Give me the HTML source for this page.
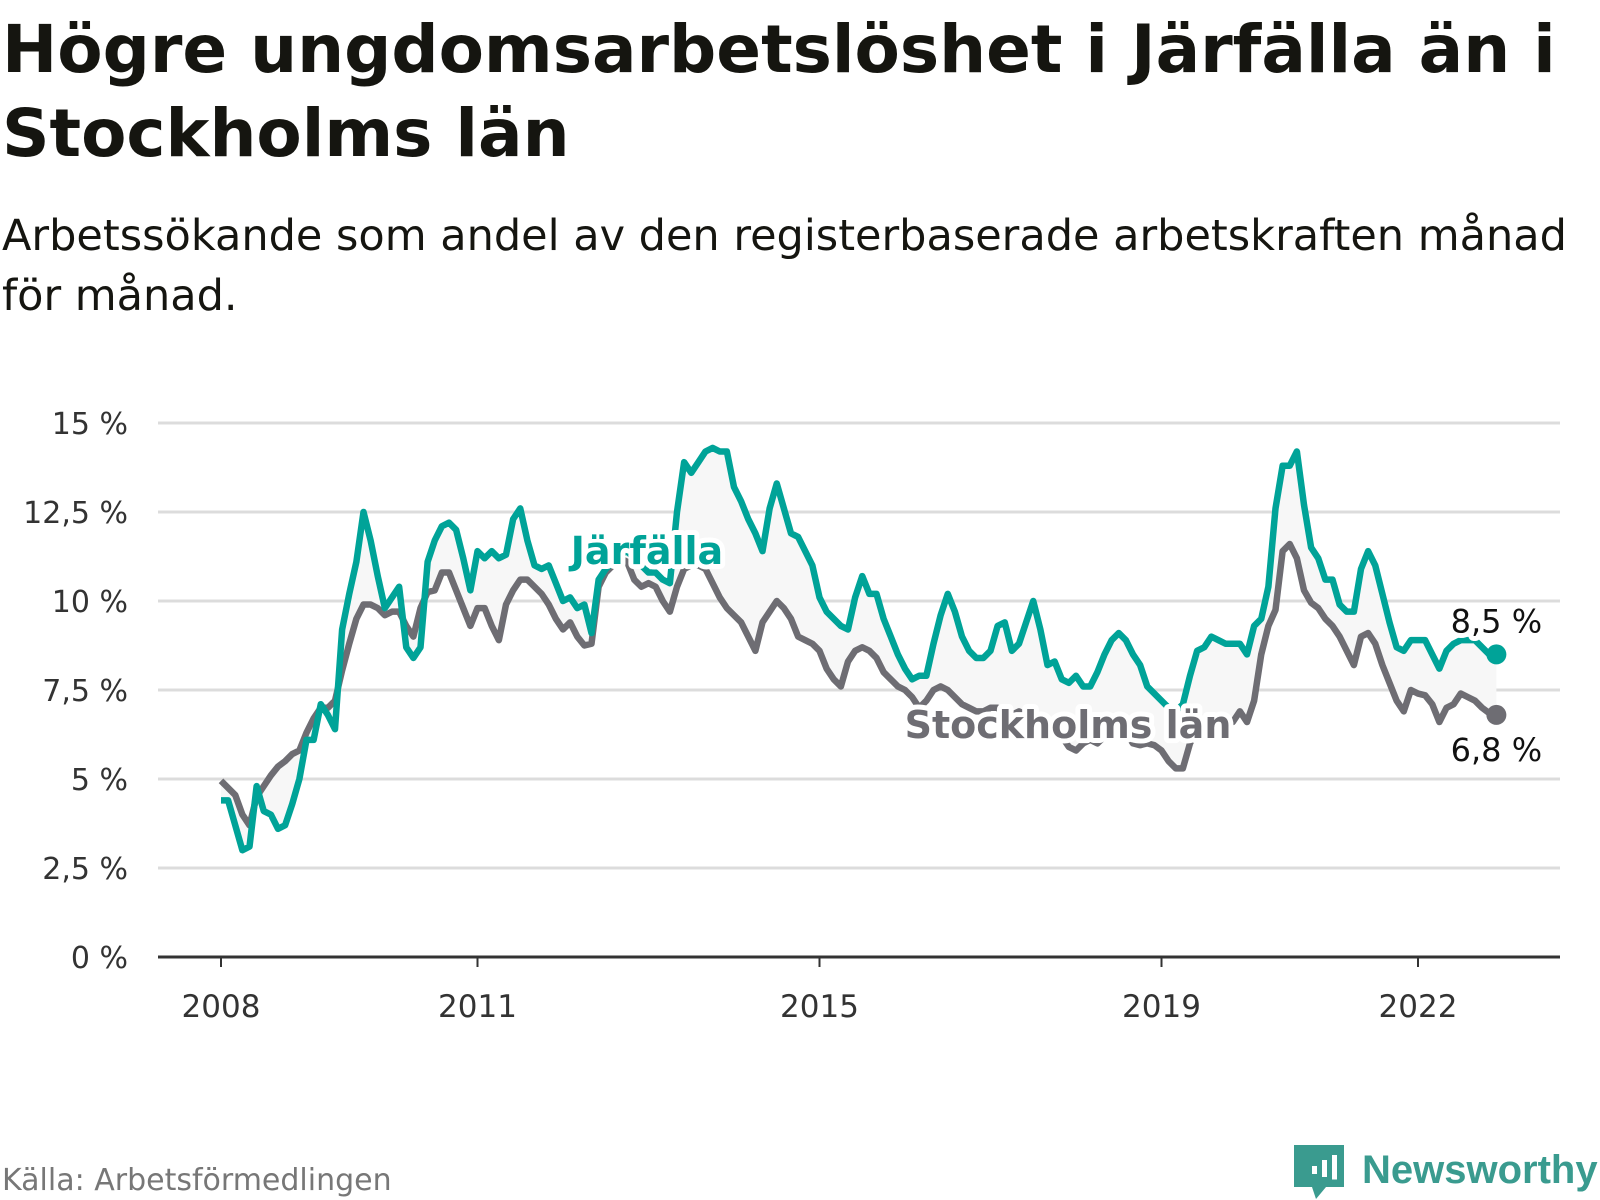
<!DOCTYPE html>
<html><head><meta charset="utf-8"><style>
body{margin:0;background:#fff;width:1600px;height:1200px;overflow:hidden;font-family:"DejaVu Sans",sans-serif;color:#111}
#title{position:absolute;left:2px;top:8px;margin:0;font-size:66px;line-height:84px;font-weight:bold;color:#151510;white-space:nowrap;font-family:"DejaVu Sans",sans-serif}
#sub{position:absolute;left:2px;top:206px;margin:0;font-size:43px;line-height:60px;font-weight:normal;color:#151510;white-space:nowrap;font-family:"DejaVu Sans",sans-serif}
svg{position:absolute;left:0;top:0}
</style></head><body>
<h1 id="title">Högre ungdomsarbetslöshet i Järfälla än i<br>Stockholms län</h1>
<p id="sub">Arbetssökande som andel av den registerbaserade arbetskraften månad<br>för månad.</p>
<svg id="chart" width="1600" height="1200"></svg>
<script>
const startYear = 2008;
const xTickYears = [2008, 2011, 2015, 2019, 2022];
const yTicks = [0, 2.5, 5, 7.5, 10, 12.5, 15];
const yTickLabels = ["0 %", "2,5 %", "5 %", "7,5 %", "10 %", "12,5 %", "15 %"];
const jarfalla = [4.4,4.4,3.7,3.0,3.1,4.8,4.1,4.0,3.6,3.7,4.3,5.0,6.1,6.1,7.1,6.8,6.4,9.2,10.2,11.1,12.5,11.7,10.7,9.8,10.1,10.4,8.7,8.4,8.7,11.1,11.7,12.1,12.2,12.0,11.2,10.3,11.4,11.2,11.4,11.2,11.3,12.3,12.6,11.7,11.0,10.9,11.0,10.5,10.0,10.1,9.8,9.9,9.1,10.6,10.9,11.1,11.3,11.4,11.2,11.0,10.8,10.8,10.6,10.5,12.5,13.9,13.6,13.9,14.2,14.3,14.2,14.2,13.2,12.8,12.3,11.9,11.4,12.6,13.3,12.6,11.9,11.8,11.4,11.0,10.1,9.7,9.5,9.3,9.2,10.1,10.7,10.2,10.2,9.5,9.0,8.5,8.1,7.8,7.9,7.9,8.8,9.6,10.2,9.7,9.0,8.6,8.4,8.4,8.6,9.3,9.4,8.6,8.8,9.4,10.0,9.2,8.2,8.3,7.8,7.7,7.9,7.6,7.6,8.0,8.5,8.9,9.1,8.9,8.5,8.2,7.6,7.4,7.2,7.0,6.9,7.1,7.9,8.6,8.7,9.0,8.9,8.8,8.8,8.8,8.5,9.3,9.5,10.4,12.6,13.8,13.8,14.2,12.7,11.5,11.2,10.6,10.6,9.9,9.7,9.7,10.9,11.4,11.0,10.2,9.4,8.7,8.6,8.9,8.9,8.9,8.5,8.1,8.6,8.8,8.9,8.9,8.9,8.7,8.5,8.5];
const stockholm = [4.95,4.75,4.55,4.0,3.7,4.5,4.8,5.1,5.35,5.5,5.7,5.8,6.3,6.7,7.0,7.0,7.2,8.05,8.8,9.5,9.9,9.9,9.8,9.6,9.7,9.7,9.3,9.0,9.8,10.25,10.3,10.8,10.8,10.3,9.8,9.3,9.8,9.8,9.3,8.9,9.9,10.3,10.6,10.6,10.4,10.2,9.9,9.5,9.2,9.4,9.0,8.75,8.8,10.4,10.8,11.0,11.2,11.1,10.6,10.4,10.5,10.4,10.0,9.7,10.4,10.9,11.0,11.0,10.9,10.5,10.1,9.8,9.6,9.4,9.0,8.6,9.4,9.7,10.0,9.8,9.5,9.0,8.9,8.8,8.6,8.1,7.8,7.6,8.3,8.6,8.7,8.6,8.4,8.0,7.8,7.6,7.5,7.3,7.0,7.2,7.5,7.6,7.5,7.3,7.1,7.0,6.9,6.9,7.0,7.0,6.8,6.8,6.9,6.8,6.6,6.4,6.3,6.3,6.2,5.9,5.8,6.0,6.1,6.0,6.2,6.3,6.4,6.3,6.0,5.95,6.0,5.95,5.8,5.5,5.3,5.3,6.0,6.4,6.6,6.7,6.7,6.6,6.6,6.9,6.6,7.2,8.5,9.3,9.75,11.4,11.6,11.2,10.3,9.95,9.8,9.5,9.3,9.0,8.6,8.2,9.0,9.1,8.8,8.2,7.7,7.2,6.9,7.5,7.4,7.35,7.1,6.6,7.0,7.1,7.4,7.3,7.2,7.0,6.85,6.8];
const endLabels = ["8,5 %", "6,8 %"];

const svg = document.getElementById('chart');
const NS = 'http://www.w3.org/2000/svg';
const X0 = 221, PER_MONTH = 85.5/12, Y0 = 957, PER_UNIT = 35.6;
function xScale(i){ return X0 + i*PER_MONTH; }
function yScale(v){ return Y0 - v*PER_UNIT; }
function mk(tag, attrs, text){
  const e = document.createElementNS(NS, tag);
  for (const k in attrs) e.setAttribute(k, attrs[k]);
  if (text !== undefined) e.textContent = text;
  svg.appendChild(e); return e;
}
const FONT = '"DejaVu Sans", sans-serif';

yTicks.forEach((t, k) => {
  const y = yScale(t);
  if (t > 0) {
    const g = mk('line', {x1:158, x2:1560, y1:y, y2:y, stroke:'#dcdcdc', 'stroke-width':3});
    
    
  }
  const l = mk('text', {x:128, y:y+11, 'text-anchor':'end', 'font-size':30, fill:'#333', 'font-family':FONT}, yTickLabels[k]);
  
  
});

let pts = jarfalla.map((v,i)=>xScale(i)+','+yScale(v));
let pts2 = stockholm.map((v,i)=>xScale(i)+','+yScale(v)).reverse();
const area = mk('polygon', {points: pts.concat(pts2).join(' '), fill:'#f7f7f7'});



const sl = mk('polyline', {points: stockholm.map((v,i)=>xScale(i)+','+yScale(v)).join(' '), fill:'none', stroke:'#6e6d73', 'stroke-width':6.5, 'stroke-linejoin':'round'});


const jl = mk('polyline', {points: pts.join(' '), fill:'none', stroke:'#00a398', 'stroke-width':6.5, 'stroke-linejoin':'round'});



const axis = mk('line', {x1:158, x2:1560, y1:Y0, y2:Y0, stroke:'#333', 'stroke-width':3});


xTickYears.forEach(yr => {
  const x = xScale((yr-startYear)*12);
  const t = mk('line', {x1:x, x2:x, y1:Y0, y2:Y0+10, stroke:'#333', 'stroke-width':2});
  
  
  const l = mk('text', {x:x, y:1017, 'text-anchor':'middle', 'font-size':31, fill:'#333', 'font-family':FONT}, String(yr));
  
  
});

const last = jarfalla.length-1;
const d1 = mk('circle', {cx:xScale(last), cy:yScale(jarfalla[last]), r:10, fill:'#00a398'});


const d2 = mk('circle', {cx:xScale(last), cy:yScale(stockholm[last]), r:10, fill:'#6e6d73'});



const halo = {stroke:'#fff', 'stroke-width':10, 'paint-order':'stroke', 'stroke-linejoin':'round'};
const e1 = mk('text', Object.assign({x:xScale(last), y:yScale(jarfalla[last])-22, 'text-anchor':'middle', 'font-size':32, fill:'#111', 'font-family':FONT}, halo), endLabels[0]);


const e2 = mk('text', Object.assign({x:xScale(last), y:yScale(stockholm[last])+46, 'text-anchor':'middle', 'font-size':32, fill:'#111', 'font-family':FONT}, halo), endLabels[1]);



const sj = mk('text', Object.assign({x:647, y:564, 'text-anchor':'middle', 'font-size':38, 'font-weight':'bold', fill:'#00a398', 'font-family':FONT}, halo), 'Järfälla');


const ss = mk('text', Object.assign({x:1068, y:738, 'text-anchor':'middle', 'font-size':38, 'font-weight':'bold', fill:'#6e6d73', 'font-family':FONT}, halo), 'Stockholms län');



const src = mk('text', {x:2, y:1190, 'font-size':30, fill:'#777', 'font-family':FONT}, 'Källa: Arbetsförmedlingen');



const logo = mk('path', {d:'M1294 1145 h50 v42 h-18 l-10 12 l-4 -12 h-18 z', fill:'#3a9b8f'});


[[1302,1172,10],[1312,1166,16],[1322,1160,22],[1332,1155,27]].forEach(b=>{
  const r = mk('rect', {x:b[0], y:b[1], width:5, height:b[2]-(b[1]-1150)/2, fill:'#fff'});
  
  
});
const lt = mk('text', {x:1362, y:1183, 'font-size':40, 'font-weight':'bold', fill:'#3a9b8f', 'font-family':'"Liberation Sans", sans-serif'}, 'Newsworthy');


</script>
</body></html>
